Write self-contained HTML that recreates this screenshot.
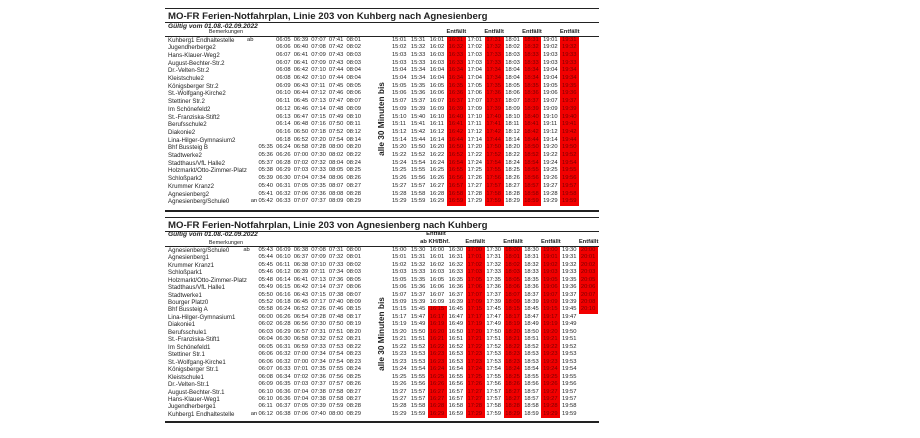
<!DOCTYPE html>
<html><head><meta charset="utf-8">
<style>
*{margin:0;padding:0}
html,body{width:920px;height:438px;background:#fff;overflow:hidden}
body{position:relative;font-family:"Liberation Sans",Arial,sans-serif;color:#222}
.l{position:absolute;left:165px;width:434px;height:1px;background:#222}
.l2{height:2px}
.h{position:absolute;white-space:nowrap;line-height:1}
.ti{font-weight:bold;font-size:9.6px;left:168px}
.gv{font-weight:bold;font-style:italic;font-size:6.6px;left:168px}
.bm{font-size:5.5px;left:206px;width:40px;text-align:center}
.ef{font-weight:bold;font-size:5.8px;width:40px;text-align:center}
.red{position:absolute;background:#f20000;width:18.9px}
.v{position:absolute;font-weight:bold;font-size:8.3px;white-space:nowrap;line-height:1;transform:translate(-50%,-50%) rotate(-90deg)}
.r{position:absolute;left:168px;display:flex;white-space:nowrap;font-size:5.8px}
.tt .r{height:7.7px;line-height:7.7px}
.bt .r{height:7.46px;line-height:7.46px}
.r b{font-weight:normal;font-size:6.1px;width:79px;flex:none}
.r i{font-style:normal;width:11.5px;flex:none}
.r s{text-decoration:none;width:17.6px;flex:none}
.r u{text-decoration:none;width:26.1px;flex:none}
.r em{font-style:normal;width:18.9px;padding-left:1.8px;box-sizing:border-box;flex:none}
.r em.x{color:#7a0000}
</style></head><body>

<!-- ===== TOP TABLE ===== -->
<div class="l" style="top:8px"></div>
<div class="h ti" style="top:11.6px">MO-FR Ferien-Notfahrplan, Linie 203 von Kuhberg nach Agnesienberg</div>
<div class="l" style="top:22px"></div>
<div class="h gv" style="top:23.7px">Gültig vom 01.08.-02.09.2022</div>
<div class="h bm" style="top:30.3px">Bemerkungen</div>
<div class="h ef" style="top:30.1px;left:436.35px">Entfällt</div>
<div class="h ef" style="top:30.1px;left:474.15px">Entfällt</div>
<div class="h ef" style="top:30.1px;left:511.95px">Entfällt</div>
<div class="h ef" style="top:30.1px;left:549.75px">Entfällt</div>
<div class="l" style="top:36px"></div>

<div class="red" style="left:446.9px;top:36.5px;height:169.4px"></div>
<div class="red" style="left:484.7px;top:36.5px;height:169.4px"></div>
<div class="red" style="left:522.5px;top:36.5px;height:169.4px"></div>
<div class="red" style="left:560.3px;top:36.5px;height:169.4px"></div>

<div class="v" style="left:381px;top:119px">alle 30 Minuten bis</div>

<div class="tt">
<div class="r" style="top:36.5px"><b>Kuhberg1 Endhaltestelle</b><i>ab</i><s></s><s>06:05</s><s>06:39</s><s>07:07</s><s>07:41</s><s>08:01</s><u></u><em>15:01</em><em>15:31</em><em>16:01</em><em class=x>16:31</em><em>17:01</em><em class=x>17:31</em><em>18:01</em><em class=x>18:31</em><em>19:01</em><em class=x>19:31</em></div>
<div class="r" style="top:44.2px"><b>Jugendherberge2</b><i></i><s></s><s>06:06</s><s>06:40</s><s>07:08</s><s>07:42</s><s>08:02</s><u></u><em>15:02</em><em>15:32</em><em>16:02</em><em class=x>16:32</em><em>17:02</em><em class=x>17:32</em><em>18:02</em><em class=x>18:32</em><em>19:02</em><em class=x>19:32</em></div>
<div class="r" style="top:51.9px"><b>Hans-Klauer-Weg2</b><i></i><s></s><s>06:07</s><s>06:41</s><s>07:09</s><s>07:43</s><s>08:03</s><u></u><em>15:03</em><em>15:33</em><em>16:03</em><em class=x>16:33</em><em>17:03</em><em class=x>17:33</em><em>18:03</em><em class=x>18:33</em><em>19:03</em><em class=x>19:33</em></div>
<div class="r" style="top:59.6px"><b>August-Bechter-Str.2</b><i></i><s></s><s>06:07</s><s>06:41</s><s>07:09</s><s>07:43</s><s>08:03</s><u></u><em>15:03</em><em>15:33</em><em>16:03</em><em class=x>16:33</em><em>17:03</em><em class=x>17:33</em><em>18:03</em><em class=x>18:33</em><em>19:03</em><em class=x>19:33</em></div>
<div class="r" style="top:67.3px"><b>Dr.-Velten-Str.2</b><i></i><s></s><s>06:08</s><s>06:42</s><s>07:10</s><s>07:44</s><s>08:04</s><u></u><em>15:04</em><em>15:34</em><em>16:04</em><em class=x>16:34</em><em>17:04</em><em class=x>17:34</em><em>18:04</em><em class=x>18:34</em><em>19:04</em><em class=x>19:34</em></div>
<div class="r" style="top:75px"><b>Kleistschule2</b><i></i><s></s><s>06:08</s><s>06:42</s><s>07:10</s><s>07:44</s><s>08:04</s><u></u><em>15:04</em><em>15:34</em><em>16:04</em><em class=x>16:34</em><em>17:04</em><em class=x>17:34</em><em>18:04</em><em class=x>18:34</em><em>19:04</em><em class=x>19:34</em></div>
<div class="r" style="top:82.7px"><b>Königsberger Str.2</b><i></i><s></s><s>06:09</s><s>06:43</s><s>07:11</s><s>07:45</s><s>08:05</s><u></u><em>15:05</em><em>15:35</em><em>16:05</em><em class=x>16:35</em><em>17:05</em><em class=x>17:35</em><em>18:05</em><em class=x>18:35</em><em>19:05</em><em class=x>19:35</em></div>
<div class="r" style="top:90.4px"><b>St.-Wolfgang-Kirche2</b><i></i><s></s><s>06:10</s><s>06:44</s><s>07:12</s><s>07:46</s><s>08:06</s><u></u><em>15:06</em><em>15:36</em><em>16:06</em><em class=x>16:36</em><em>17:06</em><em class=x>17:36</em><em>18:06</em><em class=x>18:36</em><em>19:06</em><em class=x>19:36</em></div>
<div class="r" style="top:98.1px"><b>Stettiner Str.2</b><i></i><s></s><s>06:11</s><s>06:45</s><s>07:13</s><s>07:47</s><s>08:07</s><u></u><em>15:07</em><em>15:37</em><em>16:07</em><em class=x>16:37</em><em>17:07</em><em class=x>17:37</em><em>18:07</em><em class=x>18:37</em><em>19:07</em><em class=x>19:37</em></div>
<div class="r" style="top:105.8px"><b>Im Schönefeld2</b><i></i><s></s><s>06:12</s><s>06:46</s><s>07:14</s><s>07:48</s><s>08:09</s><u></u><em>15:09</em><em>15:39</em><em>16:09</em><em class=x>16:39</em><em>17:09</em><em class=x>17:39</em><em>18:09</em><em class=x>18:39</em><em>19:09</em><em class=x>19:39</em></div>
<div class="r" style="top:113.5px"><b>St.-Franziska-Stift2</b><i></i><s></s><s>06:13</s><s>06:47</s><s>07:15</s><s>07:49</s><s>08:10</s><u></u><em>15:10</em><em>15:40</em><em>16:10</em><em class=x>16:40</em><em>17:10</em><em class=x>17:40</em><em>18:10</em><em class=x>18:40</em><em>19:10</em><em class=x>19:40</em></div>
<div class="r" style="top:121.2px"><b>Berufsschule2</b><i></i><s></s><s>06:14</s><s>06:48</s><s>07:16</s><s>07:50</s><s>08:11</s><u></u><em>15:11</em><em>15:41</em><em>16:11</em><em class=x>16:41</em><em>17:11</em><em class=x>17:41</em><em>18:11</em><em class=x>18:41</em><em>19:11</em><em class=x>19:41</em></div>
<div class="r" style="top:128.9px"><b>Diakonie2</b><i></i><s></s><s>06:16</s><s>06:50</s><s>07:18</s><s>07:52</s><s>08:12</s><u></u><em>15:12</em><em>15:42</em><em>16:12</em><em class=x>16:42</em><em>17:12</em><em class=x>17:42</em><em>18:12</em><em class=x>18:42</em><em>19:12</em><em class=x>19:42</em></div>
<div class="r" style="top:136.6px"><b>Lina-Hilger-Gymnasium2</b><i></i><s></s><s>06:18</s><s>06:52</s><s>07:20</s><s>07:54</s><s>08:14</s><u></u><em>15:14</em><em>15:44</em><em>16:14</em><em class=x>16:44</em><em>17:14</em><em class=x>17:44</em><em>18:14</em><em class=x>18:44</em><em>19:14</em><em class=x>19:44</em></div>
<div class="r" style="top:144.3px"><b>Bhf Bussteig B</b><i></i><s>05:35</s><s>06:24</s><s>06:58</s><s>07:28</s><s>08:00</s><s>08:20</s><u></u><em>15:20</em><em>15:50</em><em>16:20</em><em class=x>16:50</em><em>17:20</em><em class=x>17:50</em><em>18:20</em><em class=x>18:50</em><em>19:20</em><em class=x>19:50</em></div>
<div class="r" style="top:152px"><b>Stadtwerke2</b><i></i><s>05:36</s><s>06:26</s><s>07:00</s><s>07:30</s><s>08:02</s><s>08:22</s><u></u><em>15:22</em><em>15:52</em><em>16:22</em><em class=x>16:52</em><em>17:22</em><em class=x>17:52</em><em>18:22</em><em class=x>18:52</em><em>19:22</em><em class=x>19:52</em></div>
<div class="r" style="top:159.7px"><b>Stadthaus/VfL Halle2</b><i></i><s>05:37</s><s>06:28</s><s>07:02</s><s>07:32</s><s>08:04</s><s>08:24</s><u></u><em>15:24</em><em>15:54</em><em>16:24</em><em class=x>16:54</em><em>17:24</em><em class=x>17:54</em><em>18:24</em><em class=x>18:54</em><em>19:24</em><em class=x>19:54</em></div>
<div class="r" style="top:167.4px"><b>Holzmarkt/Otto-Zimmer-Platz</b><i></i><s>05:38</s><s>06:29</s><s>07:03</s><s>07:33</s><s>08:05</s><s>08:25</s><u></u><em>15:25</em><em>15:55</em><em>16:25</em><em class=x>16:55</em><em>17:25</em><em class=x>17:55</em><em>18:25</em><em class=x>18:55</em><em>19:25</em><em class=x>19:55</em></div>
<div class="r" style="top:175.1px"><b>Schloßpark2</b><i></i><s>05:39</s><s>06:30</s><s>07:04</s><s>07:34</s><s>08:06</s><s>08:26</s><u></u><em>15:26</em><em>15:56</em><em>16:26</em><em class=x>16:56</em><em>17:26</em><em class=x>17:56</em><em>18:26</em><em class=x>18:56</em><em>19:26</em><em class=x>19:56</em></div>
<div class="r" style="top:182.8px"><b>Krummer Kranz2</b><i></i><s>05:40</s><s>06:31</s><s>07:05</s><s>07:35</s><s>08:07</s><s>08:27</s><u></u><em>15:27</em><em>15:57</em><em>16:27</em><em class=x>16:57</em><em>17:27</em><em class=x>17:57</em><em>18:27</em><em class=x>18:57</em><em>19:27</em><em class=x>19:57</em></div>
<div class="r" style="top:190.5px"><b>Agnesienberg2</b><i></i><s>05:41</s><s>06:32</s><s>07:06</s><s>07:36</s><s>08:08</s><s>08:28</s><u></u><em>15:28</em><em>15:58</em><em>16:28</em><em class=x>16:58</em><em>17:28</em><em class=x>17:58</em><em>18:28</em><em class=x>18:58</em><em>19:28</em><em class=x>19:58</em></div>
<div class="r" style="top:198.2px"><b>Agnesienberg/Schule0</b><i style="text-indent:3.7px">an</i><s>05:42</s><s>06:33</s><s>07:07</s><s>07:37</s><s>08:09</s><s>08:29</s><u></u><em>15:29</em><em>15:59</em><em>16:29</em><em class=x>16:59</em><em>17:29</em><em class=x>17:59</em><em>18:29</em><em class=x>18:59</em><em>19:29</em><em class=x>19:59</em></div>
</div>
<div class="l l2" style="top:210px"></div>

<!-- ===== BOTTOM TABLE ===== -->
<div class="l" style="top:217px"></div>
<div class="h ti" style="top:220.7px">MO-FR Ferien-Notfahrplan, Linie 203 von Agnesienberg nach Kuhberg</div>
<div class="l" style="top:231px"></div>
<div class="h gv" style="top:232.4px">Gültig vom 01.08.-02.09.2022</div>
<div class="h ef" style="top:232.1px;left:416px">Entfällt</div>
<div class="h bm" style="top:240.6px">Bemerkungen</div>
<div class="h ef" style="top:239.6px;left:415px">ab KH/Bhf.</div>
<div class="h ef" style="top:239.6px;left:455.25px">Entfällt</div>
<div class="h ef" style="top:239.6px;left:493.05px">Entfällt</div>
<div class="h ef" style="top:239.6px;left:530.85px">Entfällt</div>
<div class="h ef" style="top:239.6px;left:568.65px">Entfällt</div>
<div class="l" style="top:246px"></div>

<div class="red" style="left:428px;top:306.48px;height:111.9px"></div>
<div class="red" style="left:465.8px;top:246.8px;height:171.58px"></div>
<div class="red" style="left:503.6px;top:246.8px;height:171.58px"></div>
<div class="red" style="left:541.4px;top:246.8px;height:171.58px"></div>
<div class="red" style="left:579.2px;top:246.8px;height:67.14px"></div>

<div class="v" style="left:381px;top:334px">alle 30 Minuten bis</div>

<div class="bt">
<div class="r" style="top:246.8px"><b>Agnesienberg/Schule0</b><i style="text-indent:-3.7px">ab</i><s>05:43</s><s>06:09</s><s>06:38</s><s>07:08</s><s>07:31</s><s>08:00</s><u></u><em>15:00</em><em>15:30</em><em>16:00</em><em>16:30</em><em class=x>17:00</em><em>17:30</em><em class=x>18:00</em><em>18:30</em><em class=x>19:00</em><em>19:30</em><em class=x>20:00</em></div>
<div class="r" style="top:254.26px"><b>Agnesienberg1</b><i></i><s>05:44</s><s>06:10</s><s>06:37</s><s>07:09</s><s>07:32</s><s>08:01</s><u></u><em>15:01</em><em>15:31</em><em>16:01</em><em>16:31</em><em class=x>17:01</em><em>17:31</em><em class=x>18:01</em><em>18:31</em><em class=x>19:01</em><em>19:31</em><em class=x>20:01</em></div>
<div class="r" style="top:261.72px"><b>Krummer Kranz1</b><i></i><s>05:45</s><s>06:11</s><s>06:38</s><s>07:10</s><s>07:33</s><s>08:02</s><u></u><em>15:02</em><em>15:32</em><em>16:02</em><em>16:32</em><em class=x>17:02</em><em>17:32</em><em class=x>18:02</em><em>18:32</em><em class=x>19:02</em><em>19:32</em><em class=x>20:02</em></div>
<div class="r" style="top:269.18px"><b>Schloßpark1</b><i></i><s>05:46</s><s>06:12</s><s>06:39</s><s>07:11</s><s>07:34</s><s>08:03</s><u></u><em>15:03</em><em>15:33</em><em>16:03</em><em>16:33</em><em class=x>17:03</em><em>17:33</em><em class=x>18:03</em><em>18:33</em><em class=x>19:03</em><em>19:33</em><em class=x>20:03</em></div>
<div class="r" style="top:276.64px"><b>Holzmarkt/Otto-Zimmer-Platz</b><i></i><s>05:48</s><s>06:14</s><s>06:41</s><s>07:13</s><s>07:36</s><s>08:05</s><u></u><em>15:05</em><em>15:35</em><em>16:05</em><em>16:35</em><em class=x>17:05</em><em>17:35</em><em class=x>18:05</em><em>18:35</em><em class=x>19:05</em><em>19:35</em><em class=x>20:05</em></div>
<div class="r" style="top:284.1px"><b>Stadthaus/VfL Halle1</b><i></i><s>05:49</s><s>06:15</s><s>06:42</s><s>07:14</s><s>07:37</s><s>08:06</s><u></u><em>15:06</em><em>15:36</em><em>16:06</em><em>16:36</em><em class=x>17:06</em><em>17:36</em><em class=x>18:06</em><em>18:36</em><em class=x>19:06</em><em>19:36</em><em class=x>20:06</em></div>
<div class="r" style="top:291.56px"><b>Stadtwerke1</b><i></i><s>05:50</s><s>06:16</s><s>06:43</s><s>07:15</s><s>07:38</s><s>08:07</s><u></u><em>15:07</em><em>15:37</em><em>16:07</em><em>16:37</em><em class=x>17:07</em><em>17:37</em><em class=x>18:07</em><em>18:37</em><em class=x>19:07</em><em>19:37</em><em class=x>20:07</em></div>
<div class="r" style="top:299.02px"><b>Bourger Platz0</b><i></i><s>05:52</s><s>06:18</s><s>06:45</s><s>07:17</s><s>07:40</s><s>08:09</s><u></u><em>15:09</em><em>15:39</em><em>16:09</em><em>16:39</em><em class=x>17:09</em><em>17:39</em><em class=x>18:09</em><em>18:39</em><em class=x>19:09</em><em>19:39</em><em class=x>20:08</em></div>
<div class="r" style="top:306.48px"><b>Bhf Bussteig A</b><i></i><s>05:58</s><s>06:24</s><s>06:52</s><s>07:26</s><s>07:46</s><s>08:15</s><u></u><em>15:15</em><em>15:45</em><em class=x>16:15</em><em>16:45</em><em class=x>17:15</em><em>17:45</em><em class=x>18:15</em><em>18:45</em><em class=x>19:15</em><em>19:45</em><em class=x>20:10</em></div>
<div class="r" style="top:313.94px"><b>Lina-Hilger-Gymnasium1</b><i></i><s>06:00</s><s>06:26</s><s>06:54</s><s>07:28</s><s>07:48</s><s>08:17</s><u></u><em>15:17</em><em>15:47</em><em class=x>16:17</em><em>16:47</em><em class=x>17:17</em><em>17:47</em><em class=x>18:17</em><em>18:47</em><em class=x>19:17</em><em>19:47</em></div>
<div class="r" style="top:321.4px"><b>Diakonie1</b><i></i><s>06:02</s><s>06:28</s><s>06:56</s><s>07:30</s><s>07:50</s><s>08:19</s><u></u><em>15:19</em><em>15:49</em><em class=x>16:19</em><em>16:49</em><em class=x>17:19</em><em>17:49</em><em class=x>18:19</em><em>18:49</em><em class=x>19:19</em><em>19:49</em></div>
<div class="r" style="top:328.86px"><b>Berufsschule1</b><i></i><s>06:03</s><s>06:29</s><s>06:57</s><s>07:31</s><s>07:51</s><s>08:20</s><u></u><em>15:20</em><em>15:50</em><em class=x>16:20</em><em>16:50</em><em class=x>17:20</em><em>17:50</em><em class=x>18:20</em><em>18:50</em><em class=x>19:20</em><em>19:50</em></div>
<div class="r" style="top:336.32px"><b>St.-Franziska-Stift1</b><i></i><s>06:04</s><s>06:30</s><s>06:58</s><s>07:32</s><s>07:52</s><s>08:21</s><u></u><em>15:21</em><em>15:51</em><em class=x>16:21</em><em>16:51</em><em class=x>17:21</em><em>17:51</em><em class=x>18:21</em><em>18:51</em><em class=x>19:21</em><em>19:51</em></div>
<div class="r" style="top:343.78px"><b>Im Schönefeld1</b><i></i><s>06:05</s><s>06:31</s><s>06:59</s><s>07:33</s><s>07:53</s><s>08:22</s><u></u><em>15:22</em><em>15:52</em><em class=x>16:22</em><em>16:52</em><em class=x>17:22</em><em>17:52</em><em class=x>18:22</em><em>18:52</em><em class=x>19:22</em><em>19:52</em></div>
<div class="r" style="top:351.24px"><b>Stettiner Str.1</b><i></i><s>06:06</s><s>06:32</s><s>07:00</s><s>07:34</s><s>07:54</s><s>08:23</s><u></u><em>15:23</em><em>15:53</em><em class=x>16:23</em><em>16:53</em><em class=x>17:23</em><em>17:53</em><em class=x>18:23</em><em>18:53</em><em class=x>19:23</em><em>19:53</em></div>
<div class="r" style="top:358.7px"><b>St.-Wolfgang-Kirche1</b><i></i><s>06:06</s><s>06:32</s><s>07:00</s><s>07:34</s><s>07:54</s><s>08:23</s><u></u><em>15:23</em><em>15:53</em><em class=x>16:23</em><em>16:53</em><em class=x>17:23</em><em>17:53</em><em class=x>18:23</em><em>18:53</em><em class=x>19:23</em><em>19:53</em></div>
<div class="r" style="top:366.16px"><b>Königsberger Str.1</b><i></i><s>06:07</s><s>06:33</s><s>07:01</s><s>07:35</s><s>07:55</s><s>08:24</s><u></u><em>15:24</em><em>15:54</em><em class=x>16:24</em><em>16:54</em><em class=x>17:24</em><em>17:54</em><em class=x>18:24</em><em>18:54</em><em class=x>19:24</em><em>19:54</em></div>
<div class="r" style="top:373.62px"><b>Kleistschule1</b><i></i><s>06:08</s><s>06:34</s><s>07:02</s><s>07:36</s><s>07:56</s><s>08:25</s><u></u><em>15:25</em><em>15:55</em><em class=x>16:25</em><em>16:55</em><em class=x>17:25</em><em>17:55</em><em class=x>18:25</em><em>18:55</em><em class=x>19:25</em><em>19:55</em></div>
<div class="r" style="top:381.08px"><b>Dr.-Velten-Str.1</b><i></i><s>06:09</s><s>06:35</s><s>07:03</s><s>07:37</s><s>07:57</s><s>08:26</s><u></u><em>15:26</em><em>15:56</em><em class=x>16:26</em><em>16:56</em><em class=x>17:26</em><em>17:56</em><em class=x>18:26</em><em>18:56</em><em class=x>19:26</em><em>19:56</em></div>
<div class="r" style="top:388.54px"><b>August-Bechter-Str.1</b><i></i><s>06:10</s><s>06:36</s><s>07:04</s><s>07:38</s><s>07:58</s><s>08:27</s><u></u><em>15:27</em><em>15:57</em><em class=x>16:27</em><em>16:57</em><em class=x>17:27</em><em>17:57</em><em class=x>18:27</em><em>18:57</em><em class=x>19:27</em><em>19:57</em></div>
<div class="r" style="top:396px"><b>Hans-Klauer-Weg1</b><i></i><s>06:10</s><s>06:36</s><s>07:04</s><s>07:38</s><s>07:58</s><s>08:27</s><u></u><em>15:27</em><em>15:57</em><em class=x>16:27</em><em>16:57</em><em class=x>17:27</em><em>17:57</em><em class=x>18:27</em><em>18:57</em><em class=x>19:27</em><em>19:57</em></div>
<div class="r" style="top:403.46px"><b>Jugendherberge1</b><i></i><s>06:11</s><s>06:37</s><s>07:05</s><s>07:39</s><s>07:59</s><s>08:28</s><u></u><em>15:28</em><em>15:58</em><em class=x>16:28</em><em>16:58</em><em class=x>17:28</em><em>17:58</em><em class=x>18:28</em><em>18:58</em><em class=x>19:28</em><em>19:58</em></div>
<div class="r" style="top:410.92px"><b>Kuhberg1 Endhaltestelle</b><i style="text-indent:3.7px">an</i><s>06:12</s><s>06:38</s><s>07:06</s><s>07:40</s><s>08:00</s><s>08:29</s><u></u><em>15:29</em><em>15:59</em><em class=x>16:29</em><em>16:59</em><em class=x>17:29</em><em>17:59</em><em class=x>18:29</em><em>18:59</em><em class=x>19:29</em><em>19:59</em></div>
</div>
<div class="l l2" style="top:420.5px"></div>

</body></html>
